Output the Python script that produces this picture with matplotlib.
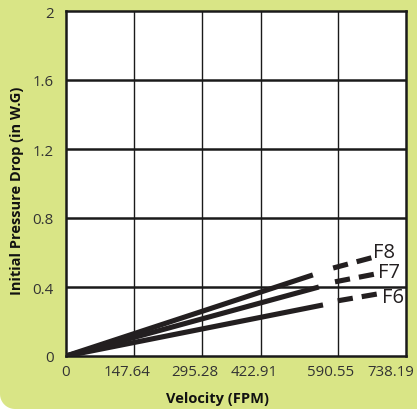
import numpy as np
import matplotlib
matplotlib.use("Agg")
import matplotlib.pyplot as plt
import matplotlib.transforms as mtransforms
from matplotlib.patches import Polygon

plt.rcParams['font.family'] = ['Open Sans', 'DejaVu Sans']
plt.rcParams['lines.scale_dashes'] = False

# data: filter grades, solid part (0 -> end), dashed extension
filters = ['F6', 'F7', 'F8']
vel_solid_end = [558, 549, 536]
pd_solid_end = [0.296, 0.40, 0.47]
vel_dash_start = [590, 584, 580]
pd_dash_start = [0.32, 0.43, 0.51]
vel_dash_end = [677, 671, 664]
pd_dash_end = [0.36, 0.475, 0.57]

x_ticks = [0, 147.64, 295.28, 422.91, 590.55, 738.19]
x_tick_labels = ['0', '147.64', '295.28', '422.91', '590.55', '738.19']
y_ticks = [0, 0.4, 0.8, 1.2, 1.6, 2]
y_tick_labels = ['0', '0.4', '0.8', '1.2', '1.6', '2']

green = '#d9e586'
W, H = 417, 410

fig = plt.figure(figsize=(W / 100, H / 100), dpi=100)
fig.patch.set_facecolor('white')

# green background, bottom-left corner rounded off
r = 15
t = np.linspace(np.pi, 1.5 * np.pi, 12)
arc = np.column_stack([r + r * np.cos(t), r + r * np.sin(t)])
pts = np.vstack([[[0, H], [W, H], [W, 0]], arc[::-1]])
bg = Polygon(pts, closed=True, facecolor=green, edgecolor='none',
             transform=None, zorder=-5)
fig.add_artist(bg)

ax = fig.add_axes([66 / W, (H - 357) / H, 340 / W, 345 / H])
ax.set_zorder(1)
ax.set_facecolor('white')
ax.set_xlim(0, 738.19)
ax.set_ylim(0, 2)

ax.set_xticks(x_ticks)
ax.set_xticklabels(x_tick_labels)
ax.set_yticks(y_ticks)
ax.set_yticklabels(y_tick_labels)
ax.tick_params(length=0, labelsize=10.8, colors='#333333')
ax.tick_params(axis='x', pad=6)
ax.tick_params(axis='y', pad=9)

# x labels sit a bit left of their ticks, the last one pulled in from the edge
for i, lab in enumerate(ax.get_xticklabels()):
    dx = 0 if i == 0 else (-15 if i == len(x_ticks) - 1 else -7)
    lab.set_transform(lab.get_transform() +
                      mtransforms.ScaledTranslation(dx / 100, 0, fig.dpi_scale_trans))

for x in x_ticks[1:-1]:
    ax.axvline(x, color='#1a1a1a', lw=1.0, zorder=1)
for y in y_ticks[1:-1]:
    ax.axhline(y, color='#1a1a1a', lw=1.8, zorder=1)
for s in ax.spines.values():
    s.set_linewidth(1.8)
    s.set_color('#1a1a1a')

line_color = '#231f20'
label_offsets = [(3, -2), (2, 1.5), (1, 4)]
for i, name in enumerate(filters):
    ax.plot([0, vel_solid_end[i]], [0, pd_solid_end[i]], color=line_color,
            lw=3.7, solid_capstyle='butt', zorder=3)
    ax.plot([vel_dash_start[i], vel_dash_end[i]], [pd_dash_start[i], pd_dash_end[i]],
            color=line_color, lw=3.7, dashes=(11, 6.5), dash_capstyle='butt', zorder=3)
    ax.annotate(name, (vel_dash_end[i], pd_dash_end[i]), xytext=label_offsets[i],
                textcoords='offset points', fontsize=14.5, color='#231f20',
                va='center', ha='left', annotation_clip=False, zorder=4)

fig.text(218 / W, 1 - 399 / H, 'Velocity (FPM)', fontsize=10.5,
         fontweight='bold', ha='center', va='center', color='#111111')
fig.text(17 / W, 1 - 191 / H, 'Initial Pressure Drop (in W.G)', fontsize=10.5,
         fontweight='bold', ha='center', va='center', rotation=90, color='#111111')

fig.savefig('out.png', dpi=100, facecolor=fig.get_facecolor())
